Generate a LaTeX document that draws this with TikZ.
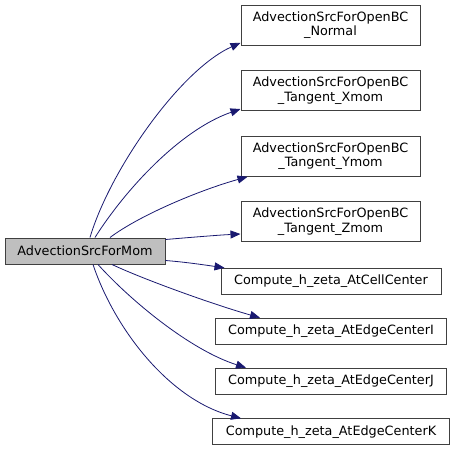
\documentclass[tikz,border=0pt]{standalone}
\usepackage{fontspec}
\setmainfont{DejaVu Sans}
\usepackage{tikz}
\usetikzlibrary{arrows.meta,positioning,calc}
\definecolor{edgeblue}{HTML}{191970}
\definecolor{boxline}{HTML}{404040}
\definecolor{mainfill}{HTML}{BFBFBF}

\begin{document}
\begin{tikzpicture}[x=1pt,y=-1pt,font=\fontsize{12.8}{14.6}\selectfont,>={Triangle[length=10pt,width=8pt]},
  fn/.style={draw=boxline,line width=1pt,inner sep=0pt,align=center,fill=white},
  call/.style={->,draw=edgeblue,line width=0.8pt}]
\useasboundingbox (0,0) rectangle (455,451);
\node[fn,fill=mainfill,minimum width=160pt,minimum height=26pt] (main) at (85,251) {AdvectionSrcForMom};
\node[fn,minimum width=179pt,minimum height=40pt] (normal) at (330.5,25.3) {AdvectionSrcForOpenBC\\\_Normal};
\node[fn,minimum width=179pt,minimum height=40pt] (xmom) at (330.5,90.5) {AdvectionSrcForOpenBC\\\_Tangent\_Xmom};
\node[fn,minimum width=179pt,minimum height=40pt] (ymom) at (330.5,156.3) {AdvectionSrcForOpenBC\\\_Tangent\_Ymom};
\node[fn,minimum width=179pt,minimum height=40pt] (zmom) at (330.5,221.5) {AdvectionSrcForOpenBC\\\_Tangent\_Zmom};
\node[fn,minimum width=220pt,minimum height=26pt] (cell) at (331,281.3) {Compute\_h\_zeta\_AtCellCenter};
\node[fn,minimum width=231pt,minimum height=26pt] (edgei) at (331,331.2) {Compute\_h\_zeta\_AtEdgeCenterI};
\node[fn,minimum width=231pt,minimum height=26pt] (edgej) at (331,381.2) {Compute\_h\_zeta\_AtEdgeCenterJ};
\node[fn,minimum width=237pt,minimum height=26pt] (edgek) at (331,431.8) {Compute\_h\_zeta\_AtEdgeCenterK};
% calls
\draw[call] ($(main.north)+(5,0)$) .. controls (110,170) and (180,70) .. ($(normal.south west)+(0,-3)$);
\draw[call] ($(main.north)+(10,0)$) .. controls (125,190) and (180,130) .. ($(xmom.south west)+(0,-2)$);
\draw[call] ($(main.north)+(25,0)$) .. controls (140,215) and (200,190) .. ($(ymom.south west)+(7,0)$);
\draw[call] ($(main.north east)+(0,2)$) .. controls (195,237) and (220,235) .. ($(zmom.south west)+(0,-8)$);
\draw[call] ($(main.south east)+(0,-4)$) .. controls (185,262) and (205,265) .. ($(cell.north west)+(4,0)$);
\draw[call] ($(main.south)+(27,0)$) .. controls (145,280) and (215,305) .. ($(edgei.north west)+(45,0)$);
\draw[call] ($(main.south)+(13,0)$) .. controls (130,300) and (190,350) .. ($(edgej.north west)+(31,0)$);
\draw[call] ($(main.south)+(8,0)$) .. controls (115,330) and (170,400) .. ($(edgek.north west)+(29,0)$);
\end{tikzpicture}
\end{document}
